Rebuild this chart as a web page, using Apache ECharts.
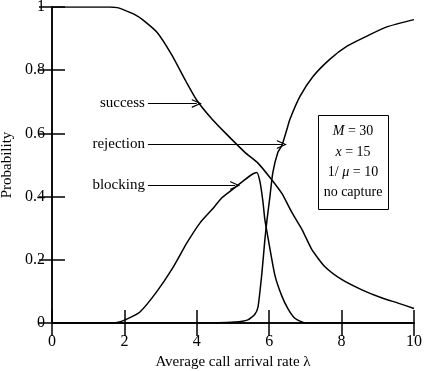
<!DOCTYPE html>
<html>
<head>
<meta charset="utf-8">
<script src="https://cdn.jsdelivr.net/npm/echarts@6/dist/echarts.min.js"></script>
<style>
  html, body { margin: 0; padding: 0; background: #fff; }
  #chart { width: 425px; height: 371px; }
</style>
</head>
<body>
<div id="chart"></div>
<script>
// 数据
var successX = [0, 1.0, 1.6, 1.8, 2.0, 2.3, 2.5, 2.9, 3.3, 3.7, 4.0, 4.4, 4.8, 5.33, 5.69, 6.08, 6.35, 6.63, 6.91, 7.18, 7.54, 8.01, 8.56, 9.12, 9.56, 10];
var successY = [1, 1, 1, 0.998, 0.99, 0.975, 0.96, 0.92, 0.85, 0.765, 0.705, 0.648, 0.6, 0.54, 0.506, 0.452, 0.41, 0.349, 0.295, 0.232, 0.178, 0.137, 0.105, 0.079, 0.063, 0.046];

var rejectionX = [0, 4.0, 5.06, 5.41, 5.6, 5.69, 5.8, 5.88, 5.94, 6.02, 6.1, 6.24, 6.35, 6.49, 6.57, 6.85, 7.21, 7.68, 8.15, 8.7, 9.25, 10];
var rejectionY = [0, 0, 0.003, 0.01, 0.027, 0.05, 0.16, 0.263, 0.327, 0.40, 0.476, 0.54, 0.562, 0.613, 0.644, 0.717, 0.78, 0.835, 0.876, 0.908, 0.937, 0.96];

var blockingX = [0, 1.6, 1.8, 2.02, 2.43, 2.9, 3.34, 3.73, 4.09, 4.42, 4.7, 5.06, 5.33, 5.52, 5.66, 5.75, 5.83, 5.88, 5.97, 6.16, 6.35, 6.52, 6.71, 7.0, 10];
var blockingY = [0, 0, 0.002, 0.01, 0.035, 0.1, 0.175, 0.254, 0.317, 0.359, 0.397, 0.429, 0.454, 0.47, 0.476, 0.444, 0.381, 0.327, 0.268, 0.15, 0.085, 0.045, 0.015, 0, 0];

var xTicks = [0, 2, 4, 6, 8, 10];
var yTicks = [0, 0.2, 0.4, 0.6, 0.8, 1];

var boxLines = ['{i|M} = 30', '{i|x} = 15', '1/ {i|\u03bc} = 10', 'no capture'];

var serif = 'Liberation Serif';
// open arrow head (chevron), tip pointing up like the built-in 'arrow'
var chevron = 'path://M0,10 L5,0 L10,10 L8.6,10 L5,2.6 L1.4,10 Z';

function toPairs(xs, ys) {
  return xs.map(function (x, i) { return [x, ys[i]]; });
}

// arrow annotation, label at the left end
function arrow(text, x0, x1, y) {
  return {
    silent: true,
    symbol: ['none', chevron],
    symbolSize: [9, 10],
    lineStyle: { color: '#000', width: 1.2, type: 'solid' },
    label: {
      show: true,
      position: 'start',
      distance: 3,
      formatter: text,
      color: '#000',
      fontFamily: serif,
      fontSize: 15
    },
    data: [[{ coord: [x0, y] }, { coord: [x1, y] }]]
  };
}

function lineSeries(name, xs, ys, mark) {
  return {
    name: name,
    type: 'line',
    data: toPairs(xs, ys),
    showSymbol: false,
    smooth: 0.2,
    lineStyle: { color: '#000', width: 1.5 },
    itemStyle: { color: '#000' },
    markLine: mark
  };
}

var axisLineStyle = { show: true, lineStyle: { color: '#000', width: 1.5 } };
var tickStyle = { show: true, inside: true, length: 13, lineStyle: { color: '#000', width: 1.5 } };

var myChart = echarts.init(document.getElementById('chart'));

myChart.setOption({
  animation: false,
  grid: { left: 52, right: 11, top: 7, bottom: 48, containLabel: false, outerBoundsMode: 'none' },
  xAxis: [
    {
      type: 'value', min: xTicks[0], max: xTicks[xTicks.length - 1], interval: 2,
      position: 'bottom',
      name: 'Average call arrival rate \u03bb',
      nameLocation: 'middle',
      nameGap: 31,
      nameTextStyle: { color: '#000', fontFamily: serif, fontSize: 15 },
      axisLine: axisLineStyle,
      axisTick: tickStyle,
      axisLabel: { color: '#000', fontFamily: serif, fontSize: 16, margin: 11 },
      splitLine: { show: false }
    },
    {
      type: 'value', min: xTicks[0], max: xTicks[xTicks.length - 1], interval: 2,
      position: 'top',
      axisLine: axisLineStyle,
      axisTick: tickStyle,
      axisLabel: { show: false },
      splitLine: { show: false }
    }
  ],
  yAxis: [
    {
      type: 'value', min: yTicks[0], max: yTicks[yTicks.length - 1], interval: 0.2,
      position: 'left',
      name: 'Probability',
      nameLocation: 'middle',
      nameGap: 35,
      nameTextStyle: { color: '#000', fontFamily: serif, fontSize: 15 },
      axisLine: axisLineStyle,
      axisTick: tickStyle,
      axisLabel: { color: '#000', fontFamily: serif, fontSize: 16, margin: 7 },
      splitLine: { show: false }
    },
    {
      type: 'value', min: yTicks[0], max: yTicks[yTicks.length - 1], interval: 0.2,
      position: 'right',
      axisLine: axisLineStyle,
      axisTick: tickStyle,
      axisLabel: { show: false },
      splitLine: { show: false }
    }
  ],
  series: [
    lineSeries('success', successX, successY, arrow('success', 2.65, 4.0, 0.695)),
    lineSeries('rejection', rejectionX, rejectionY, arrow('rejection', 2.65, 6.35, 0.565)),
    lineSeries('blocking', blockingX, blockingY, arrow('blocking', 2.65, 5.06, 0.435))
  ],
  graphic: [
    {
      type: 'rect',
      left: 318, top: 115,
      shape: { width: 70, height: 94 },
      style: { fill: '#fff', stroke: '#000', lineWidth: 1 },
      z: 10
    }
  ].concat(boxLines.map(function (t, i) {
    return {
      type: 'text',
      x: 353, y: [131, 152, 172, 192][i],
      style: {
        text: t,
        fontFamily: serif,
        fontSize: 14,
        fill: '#000',
        align: 'center',
        verticalAlign: 'middle',
        rich: { i: { fontStyle: 'italic', fontFamily: serif, fontSize: 14 } }
      },
      z: 11
    };
  }))
});
</script>
</body>
</html>
